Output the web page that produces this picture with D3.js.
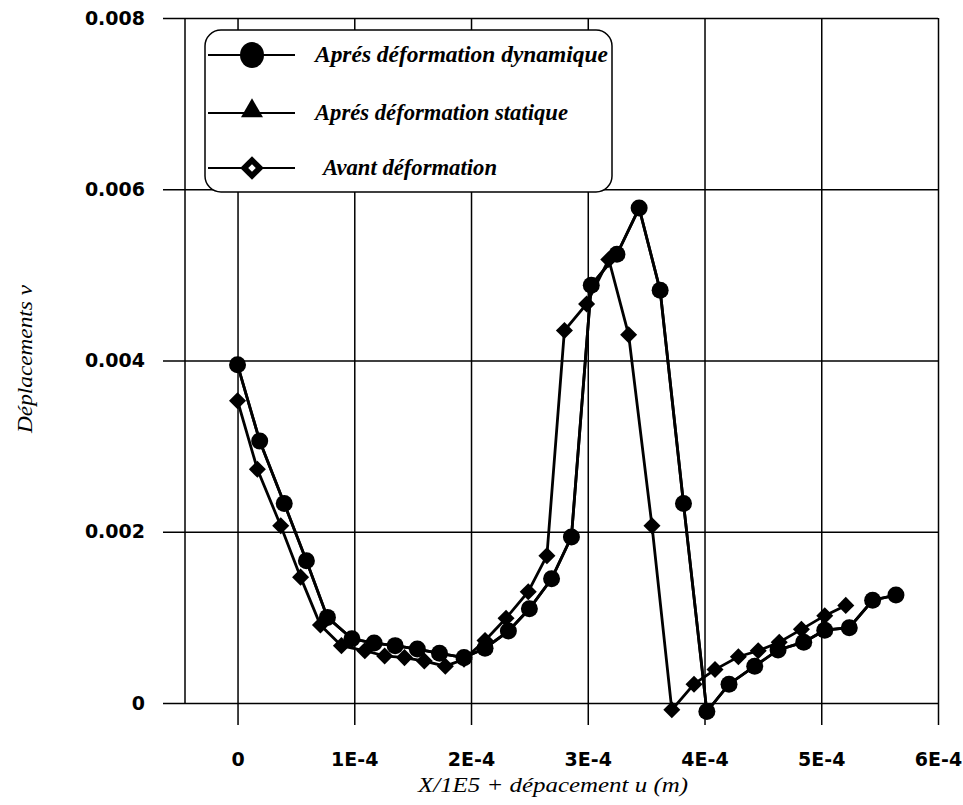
<!DOCTYPE html>
<html>
<head>
<meta charset="utf-8">
<script src="https://cdn.jsdelivr.net/npm/d3@7"></script>
<style>
  body { margin: 0; background: #fff; }
</style>
</head>
<body>
<svg id="chart" width="963" height="805"></svg>
<script>
// x in units of 1E-4 m, v in units of 1E-3
var dynX = [0, 0.19, 0.40, 0.59, 0.77, 0.98, 1.17, 1.35, 1.54, 1.73,
            1.94, 2.12, 2.32, 2.50, 2.69, 2.86, 3.03, 3.25, 3.44, 3.62,
            3.82, 4.02, 4.21, 4.43, 4.63, 4.85, 5.03, 5.24, 5.44, 5.64];
var dynV = [3.95, 3.06, 2.33, 1.66, 1.00, 0.75, 0.70, 0.67, 0.63, 0.58,
            0.53, 0.64, 0.84, 1.10, 1.45, 1.94, 4.88, 5.24, 5.78, 4.82,
            2.33, -0.10, 0.22, 0.43, 0.62, 0.71, 0.85, 0.88, 1.20, 1.26];

// static curve can't be told apart in the scan, it lies under the dynamic one
var statX = dynX;
var statV = dynV;

var avantX = [0, 0.17, 0.37, 0.54, 0.71, 0.89, 1.09, 1.26, 1.43, 1.60,
              1.78, 1.94, 2.12, 2.30, 2.49, 2.65, 2.80, 2.99, 3.18, 3.35,
              3.55, 3.72, 3.91, 4.09, 4.29, 4.46, 4.64, 4.83, 5.03, 5.21];
var avantV = [3.53, 2.73, 2.07, 1.47, 0.91, 0.67, 0.61, 0.55, 0.53, 0.49,
              0.43, 0.51, 0.73, 0.99, 1.30, 1.72, 4.35, 4.66, 5.18, 4.30,
              2.07, -0.08, 0.22, 0.39, 0.54, 0.61, 0.71, 0.86, 1.02, 1.14];

var xTicks = [0, 1, 2, 3, 4, 5, 6];
var xTickLabels = ["0", "1E-4", "2E-4", "3E-4", "4E-4", "5E-4", "6E-4"];
var yTicks = [0, 2, 4, 6, 8];
var yTickLabels = ["0", "0.002", "0.004", "0.006", "0.008"];
var legendLabels = ["Aprés déformation dynamique", "Aprés déformation statique", "Avant déformation"];

var svg = d3.select("#chart"),
    margin = {top: 18, right: 25, bottom: 102, left: 185},
    width = +svg.attr("width") - margin.left - margin.right,
    height = +svg.attr("height") - margin.top - margin.bottom,
    g = svg.append("g").attr("transform", "translate(" + margin.left + "," + margin.top + ")");

var x = d3.scaleLinear().domain([-0.45, 6]).range([0, width]);
var y = d3.scaleLinear().domain([0, 8]).range([height, 0]);

// vertical grid + ticks below the zero line
var xAxis = g.append("g")
    .call(d3.axisBottom(x)
        .tickValues(xTicks)
        .tickSize(height + 22)
        .tickPadding(28)
        .tickFormat(function(d, i) { return xTickLabels[i]; }));
xAxis.select(".domain").remove();
xAxis.selectAll("line").attr("stroke", "#000").attr("stroke-width", 1.5);
xAxis.selectAll("text").attr("fill", "#000")
    .style("font-family", "'DejaVu Sans'").style("font-weight", "bold").style("font-size", "19px");

// horizontal grid + ticks left of the frame
var yAxis = g.append("g")
    .attr("transform", "translate(" + width + ",0)")
    .call(d3.axisLeft(y)
        .tickValues(yTicks)
        .tickSize(width + 22)
        .tickPadding(18)
        .tickFormat(function(d, i) { return yTickLabels[i]; }));
yAxis.select(".domain").remove();
yAxis.selectAll("line").attr("stroke", "#000").attr("stroke-width", 1.5);
yAxis.selectAll("text").attr("fill", "#000")
    .style("font-family", "'DejaVu Sans'").style("font-weight", "bold").style("font-size", "19px");

// left frame
g.append("line")
    .attr("x1", 0).attr("x2", 0)
    .attr("y1", 0).attr("y2", height)
    .attr("stroke", "#000").attr("stroke-width", 1.5);

var line = d3.line()
    .x(function(d) { return x(d[0]); })
    .y(function(d) { return y(d[1]); });

function pairs(xs, vs) {
    return xs.map(function(d, i) { return [d, vs[i]]; });
}

var avant = pairs(avantX, avantV),
    stat = pairs(statX, statV),
    dyn = pairs(dynX, dynV);

var diamond = d3.symbol().type(d3.symbolSquare).size(145);
var triangle = d3.symbol().type(d3.symbolTriangle).size(90);

// avant déformation
g.append("path").datum(avant)
    .attr("fill", "none").attr("stroke", "#000").attr("stroke-width", 2.8)
    .attr("d", line);
g.selectAll(".avant").data(avant).enter().append("path")
    .attr("class", "avant")
    .attr("d", diamond)
    .attr("fill", "#000")
    .attr("transform", function(d) { return "translate(" + x(d[0]) + "," + y(d[1]) + ") rotate(45)"; });

// après déformation statique
g.append("path").datum(stat)
    .attr("fill", "none").attr("stroke", "#000").attr("stroke-width", 2.8)
    .attr("d", line);
g.selectAll(".stat").data(stat).enter().append("path")
    .attr("class", "stat")
    .attr("d", triangle)
    .attr("fill", "#000")
    .attr("transform", function(d) { return "translate(" + x(d[0]) + "," + y(d[1]) + ")"; });

// après déformation dynamique
g.append("path").datum(dyn)
    .attr("fill", "none").attr("stroke", "#000").attr("stroke-width", 2.8)
    .attr("d", line);
g.selectAll(".dyn").data(dyn).enter().append("circle")
    .attr("class", "dyn")
    .attr("cx", function(d) { return x(d[0]); })
    .attr("cy", function(d) { return y(d[1]); })
    .attr("r", 8.5)
    .attr("fill", "#000");

// legend
var lg = svg.append("g");
lg.append("rect")
    .attr("x", 205).attr("y", 30)
    .attr("width", 407).attr("height", 162)
    .attr("rx", 16).attr("ry", 16)
    .attr("fill", "#fff").attr("stroke", "#000").attr("stroke-width", 1.5);

var rows = [55, 113, 168],
    textLen = [293, 253, 174],
    textX = [315, 315, 323];

rows.forEach(function(ry, i) {
    lg.append("line")
        .attr("x1", 208).attr("x2", 295)
        .attr("y1", ry).attr("y2", ry)
        .attr("stroke", "#000").attr("stroke-width", 2);
    lg.append("text")
        .attr("x", textX[i]).attr("y", ry + 7)
        .attr("textLength", textLen[i])
        .attr("lengthAdjust", "spacingAndGlyphs")
        .style("font-family", "'Liberation Serif'")
        .style("font-style", "italic").style("font-weight", "bold")
        .style("font-size", "23px")
        .text(legendLabels[i]);
});
lg.append("ellipse")
    .attr("cx", 252).attr("cy", rows[0])
    .attr("rx", 12).attr("ry", 13)
    .attr("fill", "#000");
lg.append("path")
    .attr("d", d3.symbol().type(d3.symbolTriangle).size(210))
    .attr("transform", "translate(252," + (rows[1] - 2) + ")")
    .attr("fill", "#000");
lg.append("path")
    .attr("d", d3.symbol().type(d3.symbolSquare).size(280))
    .attr("transform", "translate(252," + rows[2] + ") rotate(45)")
    .attr("fill", "#000");
lg.append("path")
    .attr("d", d3.symbol().type(d3.symbolSquare).size(28))
    .attr("transform", "translate(252," + rows[2] + ") rotate(45)")
    .attr("fill", "#fff");

// axis titles
svg.append("text")
    .attr("x", 553).attr("y", 792)
    .attr("text-anchor", "middle")
    .attr("textLength", 270)
    .attr("lengthAdjust", "spacingAndGlyphs")
    .style("font-family", "'Liberation Serif'")
    .style("font-style", "italic")
    .style("font-size", "20px")
    .text("X/1E5 + dépacement u (m)");

svg.append("text")
    .attr("transform", "translate(32,359) rotate(-90)")
    .attr("text-anchor", "middle")
    .attr("textLength", 148)
    .attr("lengthAdjust", "spacingAndGlyphs")
    .style("font-family", "'Liberation Serif'")
    .style("font-style", "italic")
    .style("font-size", "20px")
    .text("Déplacements v");
</script>
</body>
</html>
